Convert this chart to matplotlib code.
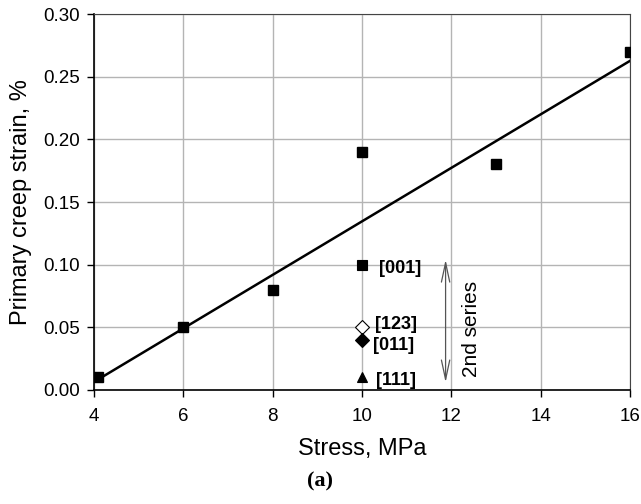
import numpy as np
import matplotlib.pyplot as plt

plt.rcParams['font.family'] = ['Liberation Sans', 'DejaVu Sans']

# first series: stress (MPa) vs primary creep strain (%)
stress = [4.1, 6, 8, 10, 13, 16]
strain = [0.01, 0.05, 0.08, 0.19, 0.18, 0.27]

# second series, single crystals at 10 MPa
orient = ['[001]', '[123]', '[011]', '[111]']
stress2 = [10, 10, 10, 10]
strain2 = [0.10, 0.05, 0.04, 0.01]
markers2 = ['s', 'D', 'D', '^']
filled2 = [True, False, True, True]
lab_offset = [(12, -3), (9, 2), (8, -4), (10, -2)]

# linear trend through all squares (incl. [001])
fit_x = np.array(stress + [stress2[0]])
fit_y = np.array(strain + [strain2[0]])
k, b = np.polyfit(fit_x, fit_y, 1)
xl = np.array([min(stress), max(stress)])

fig = plt.figure(figsize=(6.41, 5.04), dpi=100)
ax = fig.add_axes([0.1466, 0.2262, 0.8364, 0.746])

ax.plot(xl, k * xl + b, color='black', lw=1.8, zorder=3)
ax.plot(stress, strain, 's', color='black', ms=7.5, zorder=4)

for s, e, m, f, lab, off in zip(stress2, strain2, markers2, filled2,
                                orient, lab_offset):
    ms = 7.5 if m == 's' else 7
    ax.plot(s, e, m, ms=ms, mec='black', mfc='black' if f else 'white',
            mew=0.8, zorder=4)
    ax.annotate(lab, (s, e), xytext=off, textcoords='offset points',
                fontsize=13, fontweight='bold', va='center', ha='left')

# bracket arrow marking the second series
ax.annotate('', xy=(11.87, 0.104), xytext=(11.87, 0.006),
            arrowprops=dict(arrowstyle='<->,head_length=1.4,head_width=0.3',
                            color='#555555', lw=0.9, shrinkA=0, shrinkB=0))
ax.text(12.44, 0.049, '2nd series', rotation=90, fontsize=15,
        ha='center', va='center')

ax.set_xlim(4, 16)
ax.set_ylim(0, 0.30)
ax.set_xticks(np.arange(4, 17, 2))
ax.set_yticks(np.arange(0, 0.31, 0.05))
ax.yaxis.set_major_formatter(plt.FormatStrFormatter('%.2f'))
ax.grid(True, color='#b4b4b4', lw=1.0)
ax.set_axisbelow(True)
ax.tick_params(labelsize=13.5, direction='out', length=5, width=1)
ax.tick_params(axis='x', pad=8)
ax.tick_params(axis='y', pad=5)
for side in ['top', 'right']:
    ax.spines[side].set_color('#444444')
for side in ['left', 'bottom']:
    ax.spines[side].set_linewidth(1.2)

ax.set_xlabel('Stress, MPa', fontsize=17, labelpad=9)
ax.set_ylabel('Primary creep strain, %', fontsize=17, labelpad=8)

fig.text(0.5, 0.044, '(a)', fontsize=16, fontweight='bold',
         family='Liberation Serif', ha='center', va='center')

fig.savefig('out.png', dpi=100)
